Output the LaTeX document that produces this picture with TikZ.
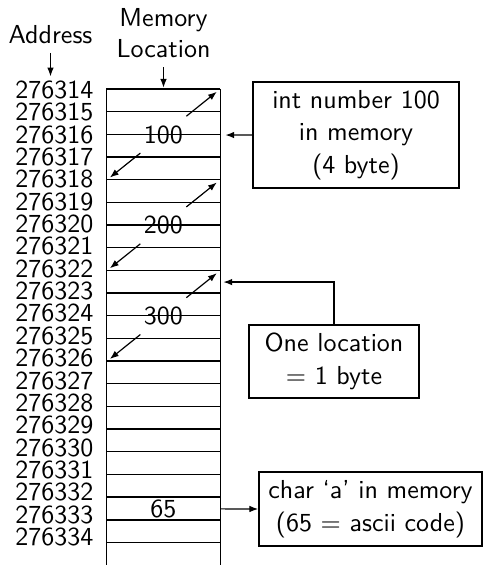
\documentclass[tikz,border=0pt]{standalone}
\usepackage{fontspec}
\usetikzlibrary{arrows.meta}
\begin{document}
\begin{tikzpicture}[x=0.5pt,y=-0.5pt,
  txt/.style={font=\sffamily\fontsize{10}{12.5}\selectfont, scale=1.3},
  arr/.style={-{Latex[length=4.4pt,width=3.3pt]}, line width=0.6pt},
  cell/.style={minimum width=56.65pt, minimum height=11.34pt, inner sep=0pt},
  cline/.style={line width=0.7pt},
  val/.style={txt, inner xsep=1.15pt, inner ysep=0pt, minimum height=13.85pt},
  box/.style={txt, draw, line width=0.6pt, align=center, inner sep=0pt}]
\useasboundingbox (0,0) rectangle (483,565);
% memory cells
\foreach \i in {0,...,20}{
  \node[cell] (r\i) at (163.35,{89.3+22.68*(\i+0.5)}) {};
  \draw[cline] (r\i.north west) -- (r\i.north east);
}
\draw[cline] (r0.north west) -- (r20.south west);
\draw[cline] (r0.north east) -- (r20.south east);
% addresses
\foreach \i in {0,...,20}{
  \node[txt, anchor=east, inner sep=0pt] (a\i) at (94,{89.8+22.36*\i}) {\the\numexpr276314+\i\relax};
}
% headers
\node[txt] (addr) at (50.5,34.5) {Address};
\node[txt, align=center, font=\sffamily\fontsize{10}{11.9}\selectfont] (mem) at (163.5,33.5) {Memory\\Location};
\draw[arr, shorten >=1.9pt] (addr.south) -- (addr.south |- a0.north);
\draw[arr, shorten >=0.6pt] (mem.south) -- (mem.south |- r0.north);
% values
\node[val] (v100) at (163.35,{89.3+22.68*2}) {100};
\node[val] (v200) at (163.35,{89.3+22.68*6}) {200};
\node[val] (v300) at (163.35,{89.3+22.68*10}) {300};
\node[txt] (v65) at (r18) {65};
\draw[arr, shorten >=2.3pt] (v100) -- (r0.north east);
\draw[arr, shorten >=2.3pt] (v100) -- (r3.south west);
\draw[arr, shorten >=2.3pt] (v200) -- (r4.north east);
\draw[arr, shorten >=2.3pt] (v200) -- (r7.south west);
\draw[arr, shorten >=2.3pt] (v300) -- (r8.north east);
\draw[arr, shorten >=2.3pt] (v300) -- (r11.south west);
% boxes
\node[box, minimum width=79.2pt, minimum height=40.8pt] (b1) at (356,135)
  {int number 100\\in memory\\(4 byte)};
\node[box, minimum width=65.4pt, minimum height=28.1pt] (b2) at (334,361.5)
  {One location\\$=$ 1 byte};
\node[box, minimum width=85.8pt, minimum height=28.5pt] (b3) at (370.5,509)
  {char ‘a’ in memory\\(65 $=$ ascii code)};
\draw[arr, shorten >=2.5pt] (b1.west) -- (r1.south east);
\draw[arr, shorten >=1.5pt] (b2.north) |- (r8.east);
\draw[arr] (r18.east) -- (b3.west);
\end{tikzpicture}
\end{document}
